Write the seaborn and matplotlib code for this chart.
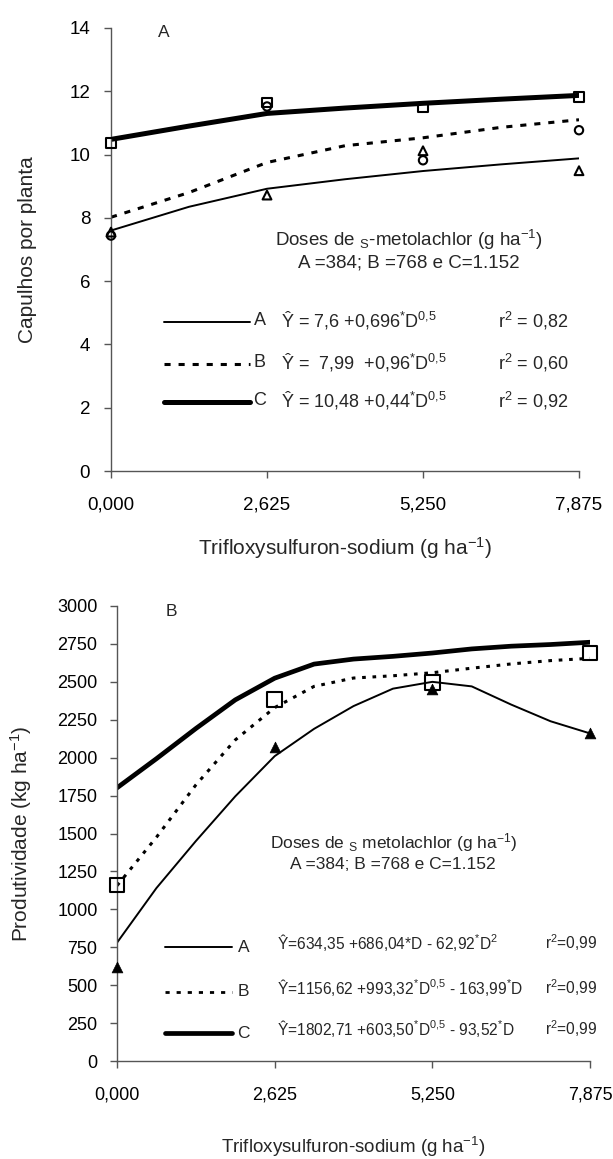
import os

os.environ.setdefault("MPLBACKEND", "Agg")

import matplotlib.pyplot as plt
import seaborn as sns

# doses de trifloxysulfuron-sodium (g ha-1)
doses = [0.0, 2.625, 5.25, 7.875]
dose_labels = ["0,000", "2,625", "5,250", "7,875"]

# pontos das curvas ajustadas
grid_cap = [0.0, 1.3125, 2.625, 3.9375, 5.25, 6.5625, 7.875]
grid_prod = [0.0, 0.656, 1.3125, 1.969, 2.625, 3.281, 3.9375, 4.594, 5.25, 5.906, 6.5625, 7.219, 7.875]

# Painel A - capulhos por planta (observados)
cap_a = [7.55, 8.72, 10.12, 9.49]
cap_b = [7.44, 11.52, 9.82, 10.77]
cap_c = [10.36, 11.64, 11.49, 11.82]
fit_cap_a = [7.6, 8.35, 8.92, 9.22, 9.48, 9.69, 9.88]
fit_cap_b = [8.02, 8.8, 9.75, 10.28, 10.53, 10.86, 11.1]
fit_cap_c = [10.48, 10.9, 11.3, 11.47, 11.62, 11.75, 11.87]

# Painel B - produtividade (kg ha-1)
prod_tri = [620, 2070, 2450, 2165]
prod_sq = [1160, 2385, 2495, 2690]
fit_prod_a = [780, 1140, 1450, 1745, 2010, 2190, 2340, 2455, 2500, 2470, 2350, 2240, 2160]
fit_prod_b = [1156, 1475, 1820, 2117, 2330, 2470, 2525, 2540, 2560, 2590, 2618, 2640, 2655]
fit_prod_c = [1801, 1993, 2192, 2381, 2524, 2617, 2650, 2668, 2690, 2717, 2735, 2746, 2761]

eq_cap = [
    ("A", "Ŷ = 7,6 +0,696$^{*}$D$^{0{,}5}$", "r$^{2}$ = 0,82"),
    ("B", "Ŷ =  7,99  +0,96$^{*}$D$^{0{,}5}$", "r$^{2}$ = 0,60"),
    ("C", "Ŷ = 10,48 +0,44$^{*}$D$^{0{,}5}$", "r$^{2}$ = 0,92"),
]
eq_prod = [
    ("A", "Ŷ=634,35 +686,04*D - 62,92$^{*}$D$^{2}$", "r$^{2}$=0,99"),
    ("B", "Ŷ=1156,62 +993,32$^{*}$D$^{0{,}5}$ - 163,99$^{*}$D", "r$^{2}$=0,99"),
    ("C", "Ŷ=1802,71 +603,50$^{*}$D$^{0{,}5}$ - 93,52$^{*}$D", "r$^{2}$=0,99"),
]

sns.set_style("ticks")
plt.rcParams["font.family"] = ["Liberation Sans", "DejaVu Sans"]
plt.rcParams["mathtext.fontset"] = "custom"
plt.rcParams["mathtext.rm"] = "Liberation Sans"
plt.rcParams["mathtext.it"] = "Liberation Sans:italic"
plt.rcParams["mathtext.bf"] = "Liberation Sans:bold"

W, H = 613, 1159
fig = plt.figure(figsize=(W / 100, H / 100), dpi=100)
ax1 = fig.add_axes([111 / W, 1 - 471 / H, 468 / W, 443 / H])
ax2 = fig.add_axes([117 / W, 1 - 1061 / H, 473 / W, 455 / H])

line_styles = {
    "A": dict(lw=1.4, ls="-"),
    "B": dict(lw=2.2, ls=(0, (2.0, 2.6))),
    "C": dict(lw=3.6, ls="-"),
}


def style_axes(ax, ymax, ystep, fs, ypad):
    ax.set_xlim(0, 7.875)
    ax.set_ylim(0, ymax)
    ax.set_xticks(doses)
    ax.set_xticklabels(dose_labels)
    ax.set_yticks(list(range(0, ymax + 1, ystep)))
    for s in ["top", "right"]:
        ax.spines[s].set_visible(False)
    for s in ["left", "bottom"]:
        ax.spines[s].set_color("#555555")
        ax.spines[s].set_linewidth(1.0)
    ax.tick_params(axis="both", direction="out", length=5, width=1, color="#555555",
                   labelsize=fs, labelcolor="black")
    ax.tick_params(axis="x", pad=13)
    ax.tick_params(axis="y", pad=ypad)


# ---- Painel A
sns.lineplot(x=grid_cap, y=fit_cap_a, ax=ax1, color="black", estimator=None, sort=False, **line_styles["A"])
sns.lineplot(x=grid_cap, y=fit_cap_b, ax=ax1, color="black", estimator=None, sort=False, **line_styles["B"])
sns.lineplot(x=grid_cap, y=fit_cap_c, ax=ax1, color="black", estimator=None, sort=False, **line_styles["C"])
sns.scatterplot(x=doses, y=cap_a, ax=ax1, marker="^", s=40, facecolors="none", edgecolor="black",
                linewidth=1.5, clip_on=False, zorder=5)
sns.scatterplot(x=doses, y=cap_b, ax=ax1, marker="o", s=36, facecolors="none", edgecolor="black",
                linewidth=1.5, clip_on=False, zorder=5)
sns.scatterplot(x=doses, y=cap_c, ax=ax1, marker="s", s=48, facecolors="none", edgecolor="black",
                linewidth=1.5, clip_on=False, zorder=5)
style_axes(ax1, 14, 2, 13.5, 10)

ax1.text(0.113, 0.989, "A", transform=ax1.transAxes, fontsize=12.5, ha="center", va="center")
ax1.text(0.637, 0.521, "Doses de $_{\\mathrm{S}}$-metolachlor (g ha$^{-1}$)", transform=ax1.transAxes,
         fontsize=13.5, ha="center", va="center")
ax1.text(0.637, 0.47, "A =384; B =768 e C=1.152", transform=ax1.transAxes,
         fontsize=13.5, ha="center", va="center")
for (name, eq, r2), yy in zip(eq_cap, [0.336, 0.2415, 0.156]):
    ax1.plot([0.113, 0.297], [yy, yy], transform=ax1.transAxes, color="black", clip_on=False,
             **line_styles[name])
    ax1.text(0.318, yy + 0.003, name, transform=ax1.transAxes, fontsize=13, ha="center", va="center")
    ax1.text(0.363, yy + 0.003, eq, transform=ax1.transAxes, fontsize=13, ha="left", va="center")
    ax1.text(0.827, yy + 0.003, r2, transform=ax1.transAxes, fontsize=13, ha="left", va="center")

ax1.set_xlabel("Trifloxysulfuron-sodium (g ha$^{-1}$)", fontsize=15)
ax1.set_ylabel("Capulhos por planta", fontsize=15)
ax1.xaxis.label.set_va("center")
ax1.yaxis.label.set_va("center")
ax1.xaxis.set_label_coords(0.5, -0.174)
ax1.yaxis.set_label_coords(-0.178, 0.5)

# ---- Painel B
sns.lineplot(x=grid_prod, y=fit_prod_a, ax=ax2, color="black", estimator=None, sort=False, lw=1.4)
sns.lineplot(x=grid_prod, y=fit_prod_b, ax=ax2, color="black", estimator=None, sort=False,
             lw=2.2, ls=(0, (1.2, 2.2)))
sns.lineplot(x=grid_prod, y=fit_prod_c, ax=ax2, color="black", estimator=None, sort=False, lw=3.4)
sns.scatterplot(x=doses, y=prod_tri, ax=ax2, marker="^", s=60, color="black", edgecolor="black",
                linewidth=0.5, clip_on=False, zorder=5)
sns.scatterplot(x=doses, y=prod_sq, ax=ax2, marker="s", s=110, facecolors="none", edgecolor="black",
                linewidth=1.5, clip_on=False, zorder=5)
style_axes(ax2, 3000, 250, 13, 9)

ax2.text(0.116, 0.987, "B", transform=ax2.transAxes, fontsize=12.5, ha="center", va="center")
ax2.text(0.584, 0.481, "Doses de $_{\\mathrm{S}}$ metolachlor (g ha$^{-1}$)", transform=ax2.transAxes,
         fontsize=12.5, ha="center", va="center")
ax2.text(0.584, 0.431, "A =384; B =768 e C=1.152", transform=ax2.transAxes,
         fontsize=12.5, ha="center", va="center")
prod_styles = {"A": dict(lw=1.4, ls="-"), "B": dict(lw=2.0, ls=(0, (1.5, 2.5))), "C": dict(lw=3.4, ls="-")}
for (name, eq, r2), yy in zip(eq_prod, [0.2505, 0.152, 0.0615]):
    ax2.plot([0.101, 0.243], [yy, yy], transform=ax2.transAxes, color="black", clip_on=False,
             **prod_styles[name])
    ax2.text(0.268, yy, name, transform=ax2.transAxes, fontsize=12.5, ha="center", va="center")
    ax2.text(0.338, yy + 0.01, eq, transform=ax2.transAxes, fontsize=11.2, ha="left", va="center")
    ax2.text(0.905, yy + 0.01, r2, transform=ax2.transAxes, fontsize=11.2, ha="left", va="center")

ax2.set_xlabel("Trifloxysulfuron-sodium (g ha$^{-1}$)", fontsize=13.5)
ax2.set_ylabel("Produtividade (kg ha$^{-1}$)", fontsize=15)
ax2.xaxis.label.set_va("center")
ax2.yaxis.label.set_va("center")
ax2.xaxis.set_label_coords(0.5, -0.189)
ax2.yaxis.set_label_coords(-0.203, 0.5)

fig.savefig("out.png", dpi=100)
plt.close(fig)
